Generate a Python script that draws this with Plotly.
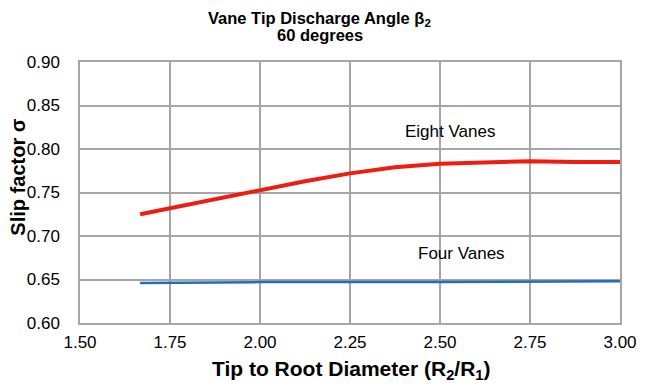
import plotly.graph_objects as go

ratio_eight = [1.667, 1.75, 1.875, 2.0, 2.125, 2.25, 2.375, 2.5, 2.625, 2.75, 2.875, 3.0]
slip_eight = [0.725, 0.732, 0.742, 0.752, 0.763, 0.772, 0.779, 0.783, 0.785, 0.786, 0.785, 0.785]
ratio_four = [1.667, 2.0, 2.5, 3.0]
slip_four = [0.646, 0.647, 0.647, 0.648]

x_ticks = [1.50, 1.75, 2.00, 2.25, 2.50, 2.75, 3.00]
y_ticks = [0.60, 0.65, 0.70, 0.75, 0.80, 0.85, 0.90]

FONT = "Liberation Sans, Arial, sans-serif"

fig = go.Figure()
fig.add_trace(go.Scatter(x=ratio_eight, y=slip_eight, mode="lines",
                         line=dict(color="#f01c10", width=4), name="Eight Vanes"))
fig.add_trace(go.Scatter(x=ratio_four, y=slip_four, mode="lines",
                         line=dict(color="#1f6fbf", width=2.5), name="Four Vanes"))

# series labels
fig.add_annotation(x=2.528, y=0.820, text="Eight Vanes", showarrow=False,
                   font=dict(family=FONT, size=17, color="#000"))
fig.add_annotation(x=2.56, y=0.680, text="Four Vanes", showarrow=False,
                   font=dict(family=FONT, size=17, color="#000"))

# chart title (two lines)
fig.add_annotation(xref="paper", yref="paper", x=0.444, y=1.166,
                   text="<b>Vane Tip Discharge Angle β<sub>2</sub></b>", showarrow=False,
                   xanchor="center", yanchor="middle", borderpad=0,
                   font=dict(family=FONT, size=16.5, color="#000"))
fig.add_annotation(xref="paper", yref="paper", x=0.444, y=1.102,
                   text="<b>60 degrees</b>", showarrow=False,
                   xanchor="center", yanchor="middle", borderpad=0,
                   font=dict(family=FONT, size=16.5, color="#000"))

# axis titles
fig.add_annotation(xref="paper", yref="paper", x=0.502, y=-0.18,
                   text="<b>Tip to Root Diameter (R<sub>2</sub>/R<sub>1</sub>)</b>",
                   showarrow=False, xanchor="center", yanchor="middle",
                   font=dict(family=FONT, size=21, color="#000"))
fig.add_annotation(xref="paper", yref="paper", x=-0.1148, y=0.557,
                   text="<b>Slip factor σ</b>", textangle=-90, borderpad=0,
                   showarrow=False, xanchor="center", yanchor="middle",
                   font=dict(family=FONT, size=20, color="#000"))

# page body adds an 8px offset, so the figure is sized to fit the 645x388 window
fig.update_layout(
    width=637, height=380,
    margin=dict(l=72, r=25, t=54, b=65, autoexpand=False),
    paper_bgcolor="white", plot_bgcolor="white",
    showlegend=False,
    font=dict(family=FONT, color="#000"),
    xaxis=dict(range=[1.5, 3.0], tickvals=x_ticks,
               ticktext=[f"{v:.2f}" for v in x_ticks],
               showgrid=True, gridcolor="#a6a6a6", gridwidth=1.5,
               showline=True, linecolor="#a6a6a6", linewidth=1.5, mirror=True,
               zeroline=False, ticks="", tickfont=dict(size=17),
               ticklabelstandoff=3, automargin=False),
    yaxis=dict(range=[0.60, 0.90], tickvals=y_ticks,
               ticktext=[f"{v:.2f}" for v in y_ticks],
               showgrid=True, gridcolor="#a6a6a6", gridwidth=1.5,
               showline=True, linecolor="#a6a6a6", linewidth=1.5, mirror=True,
               zeroline=False, ticks="", tickfont=dict(size=17),
               ticklabelstandoff=15, automargin=False),
)

fig.write_html("out.html")
